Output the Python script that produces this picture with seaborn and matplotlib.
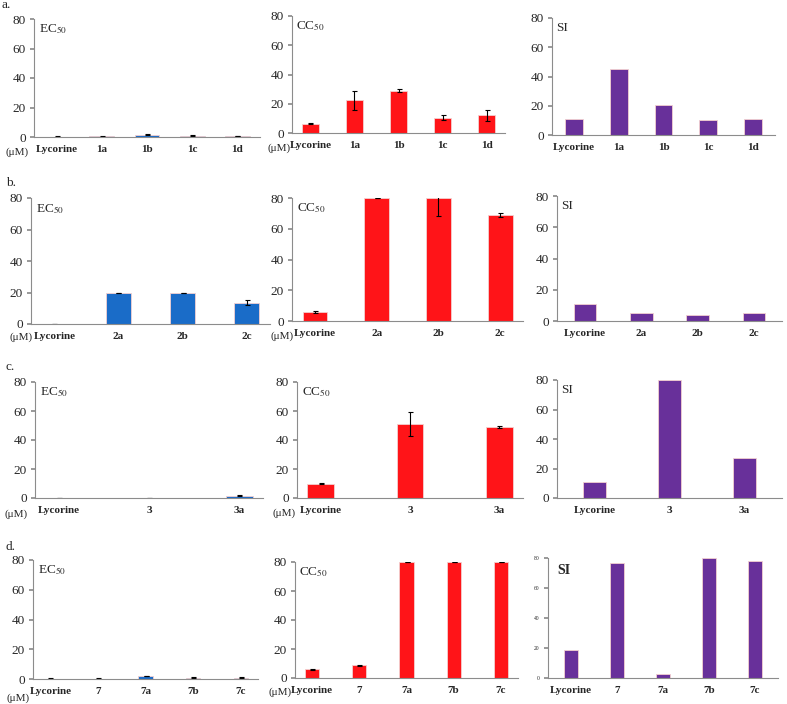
import numpy as np
import pandas as pd
import matplotlib
matplotlib.use('Agg')
import matplotlib.pyplot as plt
import seaborn as sns

sns.set_theme(style='white')
plt.rcParams['font.family'] = ['Liberation Serif', 'DejaVu Serif']
plt.rcParams['mathtext.fontset'] = 'stix'

# ---------------------------------------------------------------------------
# data (uM)
# ---------------------------------------------------------------------------
cats_a = ['Lycorine', '1a', '1b', '1c', '1d']
ec50_a = [0.3, 0.4, 1.5, 0.8, 0.7]
ec50_a_err = [0.1, 0.1, 0.2, 0.3, 0.2]
cc50_a = [6.3, 22.5, 29.0, 10.5, 12.0]
cc50_a_err = [0.3, 6.5, 1.3, 1.5, 4.0]
si_a = [11.0, 45.0, 20.5, 10.0, 11.0]

cats_b = ['Lycorine', '2a', '2b', '2c']
ec50_b = [0.2, 19.8, 19.7, 13.5]
ec50_b_err = [0.1, 0.2, 0.2, 1.5]
cc50_b = [6.0, 80.0, 80.0, 69.0]
cc50_b_err = [0.5, 0.0, 12.0, 1.5]
si_b = [11.0, 5.0, 4.0, 5.0]

cats_c = ['Lycorine', '3', '3a']
ec50_c = [0.2, 0.0, 1.7]
ec50_c_err = [0.1, 0.0, 0.5]
cc50_c = [10.0, 51.0, 49.0]
cc50_c_err = [0.5, 8.0, 1.0]
si_c = [11.0, 80.0, 27.0]

cats_d = ['Lycorine', '7', '7a', '7b', '7c']
ec50_d = [0.3, 0.3, 2.0, 1.0, 1.0]
ec50_d_err = [0.1, 0.1, 0.3, 0.2, 0.5]
cc50_d = [6.0, 8.7, 80.0, 80.0, 80.0]
cc50_d_err = [0.3, 0.5, 0.0, 0.0, 0.0]
si_d = [19.0, 77.0, 3.0, 80.0, 78.0]

BLUE = '#1a6cc8'
RED = '#ff1418'
PURPLE = '#68309a'
GREY = '#8c8c8c'

W, H = 787, 704
fig = plt.figure(figsize=(W / 100, H / 100), dpi=100)


def px(x, y):
    return x / W, 1 - y / H


def make_ax(l, y0, r, y80):
    return fig.add_axes([l / W, 1 - y0 / H, (r - l) / W, (y0 - y80) / H])


def panel(box, cats, vals, errs, color, label, width, small=False):
    ax = make_ax(*box)
    df = pd.DataFrame({'cat': cats, 'val': vals})
    sns.barplot(data=df, x='cat', y='val', color=color, width=width,
                edgecolor='#f3d0d0', linewidth=0.6, saturation=1, ax=ax)
    if errs is not None:
        ax.errorbar(np.arange(len(cats)), vals, yerr=errs, fmt='none',
                    ecolor='black', elinewidth=0.8, capsize=1.8, capthick=0.8)
    ax.set_ylim(0, 80)
    ax.set_yticks([0, 20, 40, 60, 80])
    ax.set_xlabel('')
    ax.set_ylabel('')
    for s in ['top', 'right']:
        ax.spines[s].set_visible(False)
    for s in ['left', 'bottom']:
        ax.spines[s].set_color(GREY)
        ax.spines[s].set_linewidth(0.8)
    ax.tick_params(axis='y', direction='out', length=3, color=GREY,
                   labelsize=4 if small else 9.5, pad=3, left=True)
    ax.tick_params(axis='x', length=0, labelsize=8, pad=6)
    for t in ax.get_xticklabels():
        t.set_fontweight('bold')
    if small:
        ax.text(0.04, 0.95, label, transform=ax.transAxes, fontsize=10,
                fontweight='bold', va='top', ha='left')
    else:
        ax.text(0.02, 0.97, label, transform=ax.transAxes, fontsize=9.5,
                va='top', ha='left')
    return ax


EC = 'EC$_{50}$'
CC = 'CC$_{50}$'

# row a
panel((34, 137, 260, 19), cats_a, ec50_a, ec50_a_err, BLUE, EC, 0.55)
panel((292, 133, 505, 16), cats_a, cc50_a, cc50_a_err, RED, CC, 0.4)
panel((552, 135, 775, 18), cats_a, si_a, None, PURPLE, 'SI', 0.4)

# row b
panel((31, 324, 270, 198), cats_b, ec50_b, ec50_b_err, BLUE, EC, 0.39)
panel((292, 321, 523, 198), cats_b, cc50_b, cc50_b_err, RED, CC, 0.4)
panel((557, 321, 782, 196), cats_b, si_b, None, PURPLE, 'SI', 0.4)

# row c
panel((35, 498, 263, 382), cats_c, ec50_c, ec50_c_err, BLUE, EC, 0.3)
panel((297, 498, 523, 382), cats_c, cc50_c, cc50_c_err, RED, CC, 0.3)
panel((557, 498, 782, 380), cats_c, si_c, None, PURPLE, 'SI', 0.3)

# row d
panel((33, 679, 258, 560), cats_d, ec50_d, ec50_d_err, BLUE, EC, 0.3)
panel((295, 678, 518, 562), cats_d, cc50_d, cc50_d_err, RED, CC, 0.3)
panel((548, 678, 778, 558), cats_d, si_d, None, PURPLE, 'SI', 0.3, small=True)

# unit labels
for x, y in [(17, 152), (279, 148), (21, 337), (282, 336),
             (16, 514), (284, 513), (18, 698), (280, 692)]:
    fig.text(*px(x, y), '(μM)', fontsize=8, ha='center', va='center')

# panel letters
for t, x, y in [('a.', 2, 5), ('b.', 6, 183), ('c.', 6, 367), ('d.', 6, 547)]:
    fig.text(*px(x, y), t, fontsize=9.5, ha='left', va='center')

fig.savefig('out.png', dpi=100)
